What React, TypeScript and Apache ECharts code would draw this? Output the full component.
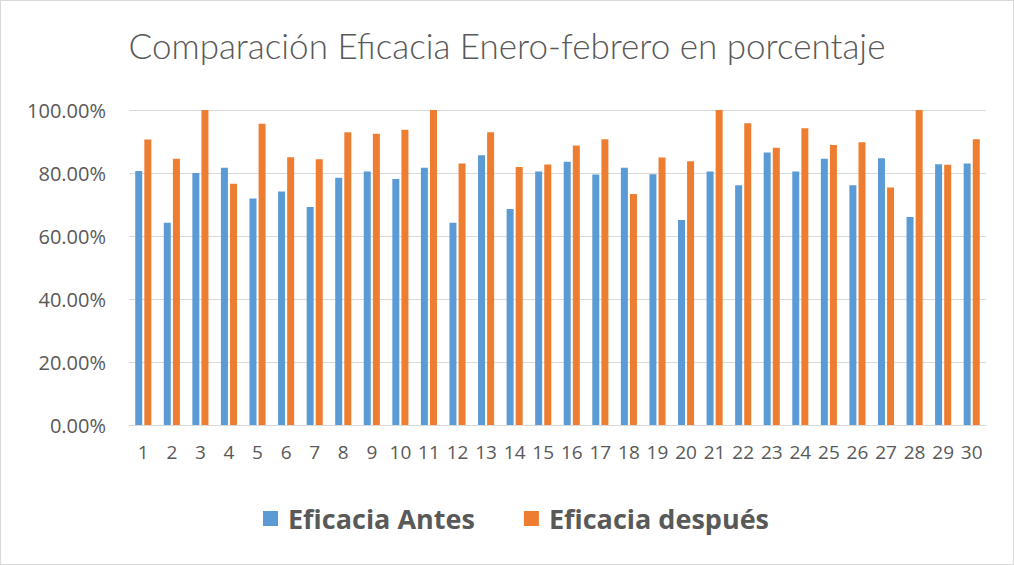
import React, { useEffect, useRef } from "react";
import * as echarts from "echarts";

const categories = Array.from({ length: 30 }, (_, i) => String(i + 1));
const antes = [80.6, 64.2, 80.0, 81.7, 71.9, 74.1, 69.2, 78.5, 80.5, 78.1, 81.7, 64.2, 85.6, 68.6, 80.5, 83.6, 79.5, 81.7, 79.6, 65.1, 80.5, 76.1, 86.5, 80.5, 84.5, 76.1, 84.7, 66.0, 82.8, 83.0];
const despues = [90.6, 84.5, 100.0, 76.6, 95.6, 85.0, 84.4, 92.9, 92.5, 93.7, 100.0, 83.0, 92.9, 81.9, 82.7, 88.7, 90.7, 73.3, 84.9, 83.7, 100.0, 95.8, 88.0, 94.2, 88.9, 89.8, 75.4, 100.0, 82.6, 90.7];
const seriesNames = ["Eficacia Antes", "Eficacia después"];
const title = "Comparación Eficacia Enero-febrero en porcentaje";

export default function App() {
  const ref = useRef<HTMLDivElement>(null);
  useEffect(() => {
    const chart = echarts.init(ref.current!, null, { renderer: "svg" });
    chart.setOption({
      animation: false,
      backgroundColor: "#ffffff",
      title: {
        text: title,
        left: "center",
        top: 21,
        textStyle: { fontFamily: "Lato", fontWeight: 300, fontSize: 35, color: "#595959" },
      },
      legend: {
        data: seriesNames,
        bottom: 27,
        left: 257,
        itemWidth: 15,
        itemHeight: 15,
        itemGap: 49,
        icon: "rect",
        textStyle: { fontFamily: "Open Sans", fontWeight: "bold", fontSize: 27, color: "#595959", padding: [0, 0, 0, 5] },
      },
      grid: { left: 128, right: 27, top: 109, bottom: 139 },
      xAxis: {
        type: "category",
        data: categories,
        axisLine: { lineStyle: { color: "#d9d9d9" } },
        axisTick: { show: false },
        axisLabel: { fontFamily: "Open Sans", fontSize: 19, color: "#595959", margin: 17, interval: 0 },
      },
      yAxis: {
        type: "value",
        min: 0,
        max: 100,
        interval: 20,
        axisLine: { show: false },
        axisTick: { show: false },
        splitLine: { lineStyle: { color: "#d9d9d9" } },
        axisLabel: {
          fontFamily: "Open Sans",
          fontSize: 20,
          color: "#595959",
          margin: 23,
          formatter: (v: number) => v.toFixed(2) + "%",
        },
      },
      series: [
        { name: seriesNames[0], type: "bar", data: antes, barWidth: 7, barGap: "30%", itemStyle: { color: "#5B9BD5" } },
        { name: seriesNames[1], type: "bar", data: despues, barWidth: 7, itemStyle: { color: "#ED7D31" } },
      ],
    });
    return () => chart.dispose();
  }, []);
  return (
    <div
      ref={ref}
      style={{ position: "fixed", left: 0, top: 0, width: 1014, height: 565, boxSizing: "border-box", border: "1px solid #d9d9d9" }}
    />
  );
}
